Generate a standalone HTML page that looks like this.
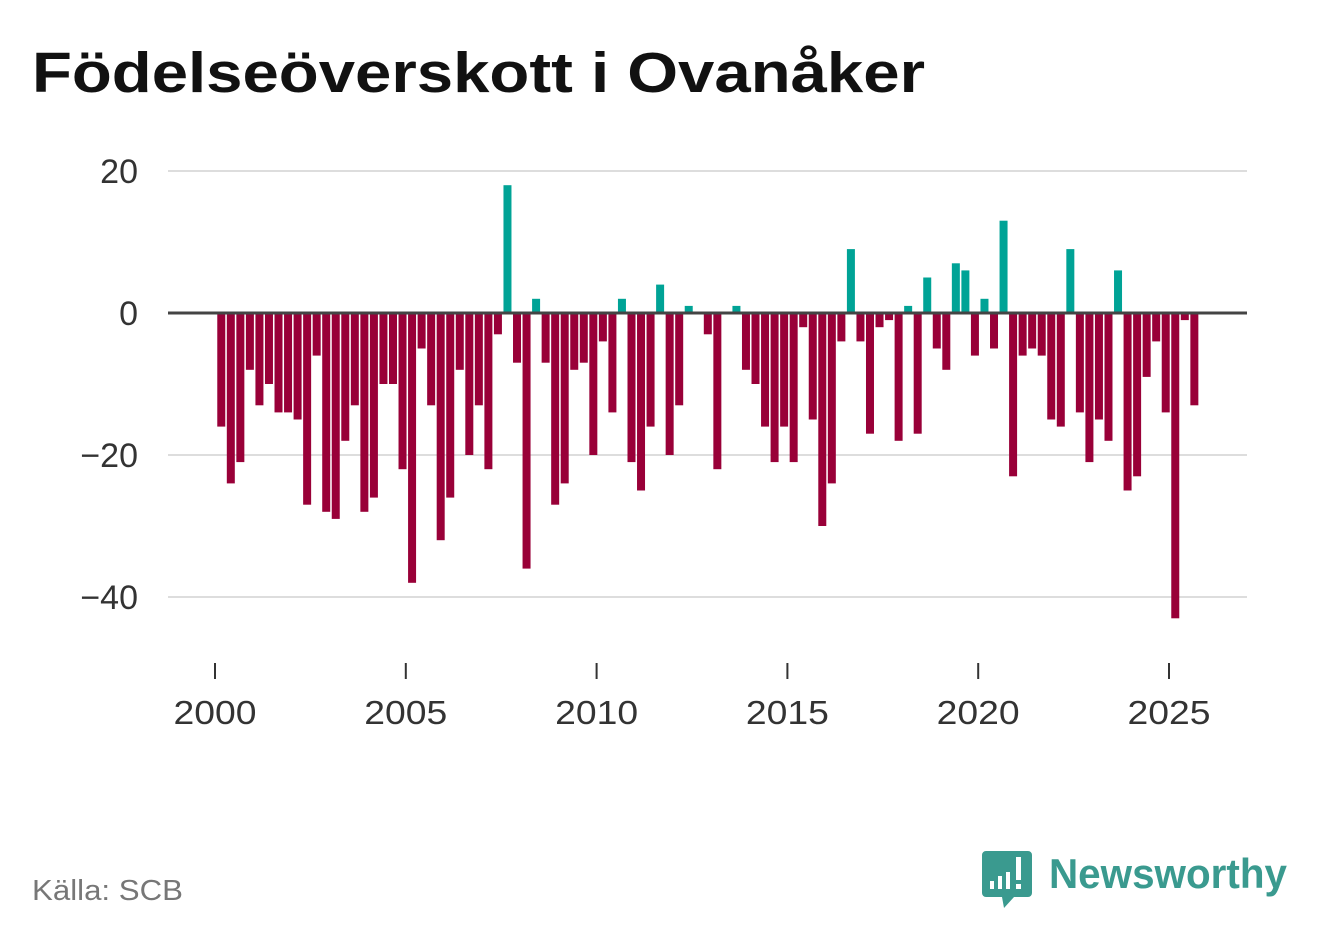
<!DOCTYPE html>
<html><head><meta charset="utf-8"><style>
html,body{margin:0;padding:0;background:#fff;width:1322px;height:939px;overflow:hidden;font-family:"Liberation Sans",sans-serif}
</style></head><body>
<svg id="c" width="1322" height="939" xmlns="http://www.w3.org/2000/svg">
<text x="32" y="92" font-size="57" font-weight="bold" fill="#111" textLength="893" lengthAdjust="spacingAndGlyphs">Födelseöverskott i Ovanåker</text>
<g id="grid"></g><g id="bars"></g><g id="axes"></g>
<text x="32" y="900" font-size="29" fill="#777" textLength="151" lengthAdjust="spacingAndGlyphs">Källa: SCB</text>
<g>
<path d="M986 851 h42 a4 4 0 0 1 4 4 v38 a4 4 0 0 1 -4 4 h-14 l-10 11 l-2 -11 h-16 a4 4 0 0 1 -4 -4 v-38 a4 4 0 0 1 4 -4z" fill="#3a9a8f"/>
<rect x="990" y="881" width="4" height="8" fill="#fff"/><rect x="998" y="876" width="4" height="13" fill="#fff"/><rect x="1006" y="872" width="4" height="17" fill="#fff"/><rect x="1016" y="857" width="5" height="23" fill="#fff"/><rect x="1016" y="884" width="5" height="5" fill="#fff"/>
<text x="1049" y="888" font-size="42" font-weight="bold" fill="#3a9a8f" textLength="238" lengthAdjust="spacingAndGlyphs">Newsworthy</text>
</g>
</svg>
<script>
const values=[-16,-24,-21,-8,-13,-10,-14,-14,-15,-27,-6,-28,-29,-18,-13,-28,-26,-10,-10,-22,-38,-5,-13,-32,-26,-8,-20,-13,-22,-3,18,-7,-36,2,-7,-27,-24,-8,-7,-20,-4,-14,2,-21,-25,-16,4,-20,-13,1,0,-3,-22,0,1,-8,-10,-16,-21,-16,-21,-2,-15,-30,-24,-4,9,-4,-17,-2,-1,-18,1,-17,5,-5,-8,7,6,-6,2,-5,13,-23,-6,-5,-6,-15,-16,9,-14,-21,-15,-18,6,-25,-23,-9,-4,-14,-43,-1,-13];
const startYear=2000;
const yTicks=[20,0,-20,-40];
const yTickLabels=["20","0","−20","−40"];
const xTicks=[2000,2005,2010,2015,2020,2025];
const NS="http://www.w3.org/2000/svg";
function xs(t){return 215+(t-2000)*(1169-215)/25;}
function ys(v){return 313-v*(313-171)/20;}
function mk(tag,attrs,parent){const e=document.createElementNS(NS,tag);for(const k in attrs)e.setAttribute(k,attrs[k]);parent.appendChild(e);return e;}
const grid=document.getElementById('grid'),bars=document.getElementById('bars'),axes=document.getElementById('axes');
yTicks.forEach((t,i)=>{
  if(t!==0){const l=mk('line',{x1:168,x2:1247,y1:ys(t),y2:ys(t),stroke:'#ddd','stroke-width':2},grid);
  
  }
  const tx=mk('text',{x:138,y:ys(t)+12,'font-size':34,fill:'#333','text-anchor':'end'},axes);
  tx.textContent=yTickLabels[i];
  
  
});
values.forEach((v,i)=>{
  const cx=xs(startYear+(i+0.5)/4)+1.5;
  const y0=ys(0),y1=ys(v);
  const r=mk('rect',{x:cx-4,y:Math.min(y0,y1),width:8,height:Math.abs(y1-y0),fill:v>=0?'#00a396':'#990038'},bars);
  
  
});
const z=mk('line',{x1:168,x2:1247,y1:ys(0),y2:ys(0),stroke:'#444','stroke-width':3},axes);


xTicks.forEach(t=>{
  const l=mk('line',{x1:xs(t),x2:xs(t),y1:663,y2:679,stroke:'#333','stroke-width':2},axes);
  
  
  const tx=mk('text',{x:xs(t),y:724,'font-size':33,fill:'#333','text-anchor':'middle',textLength:83,lengthAdjust:'spacingAndGlyphs'},axes);
  tx.textContent=t;
  
  
});
</script>
</body></html>
